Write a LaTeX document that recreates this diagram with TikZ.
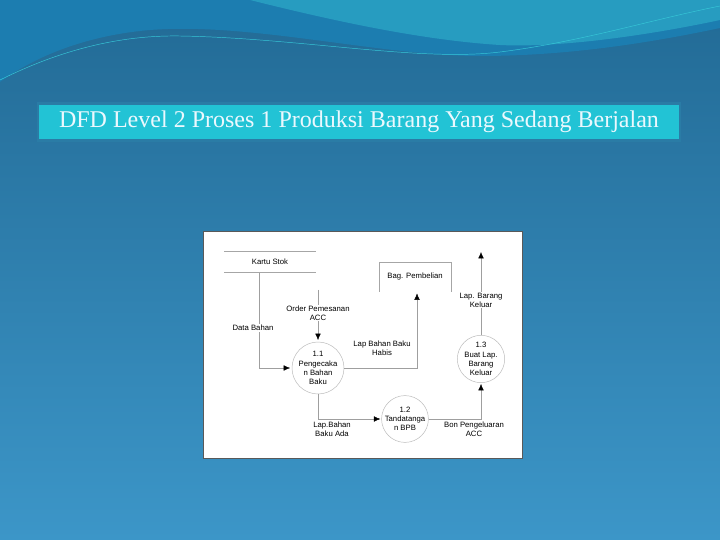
\documentclass[tikz,border=0pt]{standalone}
\usepackage{fontspec}
\setmainfont{Liberation Serif}
\newfontfamily\dfdfont{Liberation Sans}
\usetikzlibrary{positioning,arrows.meta}

\definecolor{bgtop}{HTML}{226A95}
\definecolor{bgbot}{HTML}{3C96C8}
\definecolor{wavebl}{HTML}{1C7DB0}
\definecolor{wavecy}{HTML}{36C8D8}
\definecolor{titlecy}{HTML}{22C3D5}
\definecolor{titlebd}{HTML}{2A7CA6}

\begin{document}
\begin{tikzpicture}[x=0.03cm,y=-0.03cm,
  proc/.style={circle, draw=gray!55, thin, inner sep=0pt, align=center,
    font=\dfdfont\fontsize{6.6}{7.8}\selectfont},
  flow/.style={draw=gray!75, thin, -{Latex[length=5.5pt,width=4.8pt,color=black]}},
  lbl/.style={fill=white, inner sep=0.6pt, align=center,
    font=\dfdfont\fontsize{6.6}{7.8}\selectfont}]

% latar belakang
\useasboundingbox (0,0) rectangle (720,540);
\shade [top color=bgtop, bottom color=bgbot] (0,0) rectangle (720,540);
\fill [wavebl] (0,0) -- (720,0) -- (720,28)
  .. controls (640,45) and (560,56) .. (480,56)
  .. controls (380,56) and (250,22) .. (150,30)
  .. controls (80,36) and (30,60) .. (0,82) -- cycle;
\fill [wavecy!60!wavebl, opacity=0.7] (250,0) -- (720,0) -- (720,20)
  .. controls (650,35) and (560,48) .. (500,45)
  .. controls (420,40) and (330,20) .. (250,0) -- cycle;
\draw [wavecy, thin] (0,80) .. controls (60,50) and (120,35) .. (180,36)
  .. controls (300,38) and (420,62) .. (500,52)
  .. controls (580,42) and (650,20) .. (720,6);

% judul
\node [fill=titlecy, draw=titlebd, line width=2pt, minimum width=19.26cm,
  minimum height=1.11cm, text=white!92!cyan, font=\fontsize{20.5}{24}\selectfont]
  (title) at (359,122) {DFD Level 2 Proses 1 Produksi Barang Yang Sedang Berjalan};

% kertas diagram
\draw [fill=white, draw=gray!70!black, thin] (203,231) rectangle (522,458);

% proses
\node [proc, minimum size=1.56cm] (p11) at (318,368) {1.1\\Pengecaka\\n Bahan\\Baku};
\node [proc, minimum size=1.35cm] (p12) at (405,419) {1.2\\Tandatanga\\n BPB};
\node [proc, minimum size=1.42cm] (p13) at (481,359) {1.3\\Buat Lap.\\Barang\\Keluar};

% data store & entitas
\node [minimum width=2.73cm, minimum height=0.63cm, inner sep=0pt,
  font=\dfdfont\fontsize{6.6}{7.8}\selectfont] (ks) at (270,262) {Kartu Stok};
\draw [gray!70, thin] (ks.north west) -- (ks.north east);
\draw [gray!70, thin] (ks.south west) -- (ks.south east);

\node [minimum width=2.13cm, minimum height=0.87cm, inner sep=0pt,
  font=\dfdfont\fontsize{6.6}{7.8}\selectfont] (bp) at (415,277) {Bag. Pembelian};
\draw [gray!70, thin] (bp.south west) -- (bp.north west) -- (bp.north east) -- (bp.south east);

\coordinate (opc) at (318,290);
\coordinate (lbk) at (481,252);

% aliran data
\draw [flow] ([xshift=-0.33cm]ks.south) |- ([xshift=-0.05cm]p11.west)
  node [lbl, pos=0.29, xshift=-0.18cm] {Data Bahan};
\draw [flow] (opc) -- ([yshift=0.05cm]p11.north)
  node [lbl, pos=0.46] {Order Pemesanan\\ACC};
\draw [flow] (p11.east) -| ([xshift=0.06cm,yshift=-0.05cm]bp.south);
\node [lbl] (lbbh) at (382,348) {Lap Bahan Baku\\Habis};
\draw [flow] (p11.south) |- ([xshift=-0.03cm]p12.west);
\node [lbl] (lbba) at (332,429) {Lap.Bahan\\Baku Ada};
\draw [flow] (p12.east) -| ([yshift=-0.03cm]p13.south);
\node [lbl] (bpa) at (474,429) {Bon Pengeluaran\\ACC};
\draw [flow] (p13.north) -- (lbk)
  node [lbl, pos=0.42] {Lap. Barang\\Keluar};

\end{tikzpicture}
\end{document}
